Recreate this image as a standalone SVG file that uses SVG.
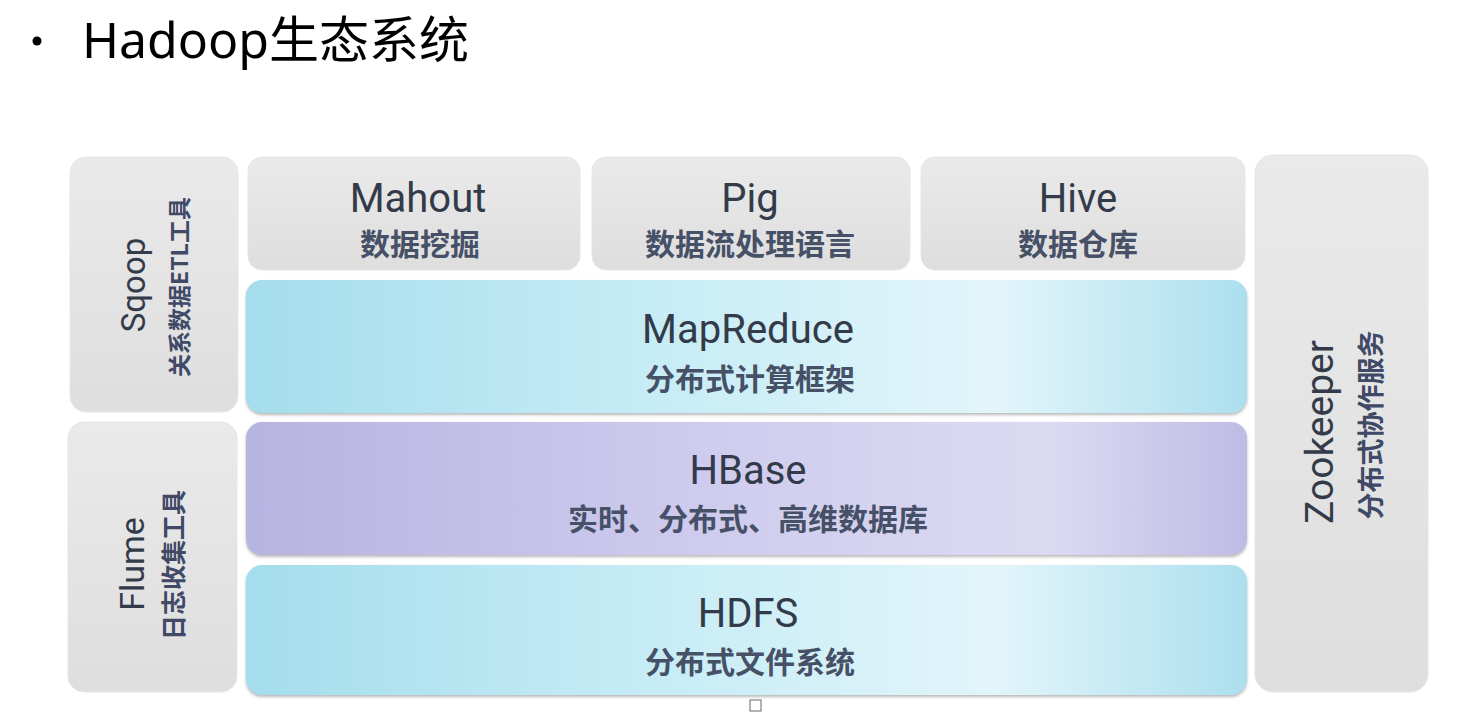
<svg xmlns="http://www.w3.org/2000/svg" width="1471" height="714" viewBox="0 0 1471 714">
<style>
.t{font-family:Roboto,"Noto Sans","Noto Sans CJK SC",sans-serif;fill:#333b4a;text-anchor:middle}
.m{font-size:40px}
.s{font-size:30px;font-family:"Noto Sans CJK SC",sans-serif;font-weight:bold;fill:#465066}
.vs{font-family:"Noto Sans CJK SC",sans-serif;font-weight:bold;fill:#404a66}
.gray{fill:url(#g);stroke:#e6e6e6;stroke-width:1}
</style>
<defs>
<linearGradient id="g" x1="0" y1="0" x2="0" y2="1">
<stop offset="0" stop-color="#eaeaea"/><stop offset="1" stop-color="#dedede"/>
</linearGradient>
<linearGradient id="c" x1="0" y1="0" x2="1" y2="0">
<stop offset="0" stop-color="#a4ddec"/><stop offset="0.4" stop-color="#c6ecf6"/><stop offset="0.75" stop-color="#e2f5fa"/><stop offset="1" stop-color="#acdfee"/>
</linearGradient>
<linearGradient id="p" x1="0" y1="0" x2="1" y2="0">
<stop offset="0" stop-color="#b6b4e0"/><stop offset="0.45" stop-color="#cecbee"/><stop offset="0.8" stop-color="#dcdaf2"/><stop offset="1" stop-color="#bebce4"/>
</linearGradient>
<filter id="sh" x="-5%" y="-5%" width="110%" height="115%"><feDropShadow dx="0" dy="2" stdDeviation="1.5" flood-color="#8a8a8a" flood-opacity="0.6"/></filter>
</defs>
<rect width="1471" height="714" fill="#ffffff"/>
<g id="title">
<circle cx="37" cy="41" r="4.5" fill="#000"/>
<text x="82" y="58" style="font-family:'Noto Sans','Noto Sans CJK SC',sans-serif;font-size:50px;fill:#000">Hadoop生态系统</text>
</g>
<g id="sqoop">
<rect class="gray" x="70" y="157" width="168" height="255" rx="16"/>
<text class="t" font-size="33" transform="translate(145,285) rotate(-90)">Sqoop</text>
<text class="t vs" font-size="23" transform="translate(188,287) rotate(-90)">关系数据ETL工具</text>
</g>
<g id="flume">
<rect class="gray" x="68" y="422" width="169" height="270" rx="16"/>
<text class="t" font-size="34" transform="translate(144,564) rotate(-90)">Flume</text>
<text class="t vs" font-size="25" transform="translate(183,565) rotate(-90)">日志收集工具</text>
</g>
<g id="zookeeper">
<rect class="gray" x="1255" y="155" width="173" height="537" rx="18"/>
<text class="t" font-size="39" transform="translate(1333,432) rotate(-90)">Zookeeper</text>
<text class="t vs" font-size="27" transform="translate(1381,425) rotate(-90)">分布式协作服务</text>
</g>
<g id="mahout">
<rect class="gray" x="248" y="157" width="332" height="113" rx="14"/>
<text class="t m" x="418" y="212">Mahout</text>
<text class="t s" x="420" y="255">数据挖掘</text>
</g>
<g id="pig">
<rect class="gray" x="592" y="157" width="318" height="113" rx="14"/>
<text class="t m" x="750" y="212">Pig</text>
<text class="t s" x="750" y="255">数据流处理语言</text>
</g>
<g id="hive">
<rect class="gray" x="921" y="157" width="324" height="113" rx="14"/>
<text class="t m" x="1078" y="212">Hive</text>
<text class="t s" x="1078" y="255">数据仓库</text>
</g>
<g id="mapreduce">
<rect x="246" y="280" width="1001" height="133" rx="16" fill="url(#c)" filter="url(#sh)"/>
<text class="t m" x="748" y="343">MapReduce</text>
<text class="t s" x="750" y="390">分布式计算框架</text>
</g>
<g id="hbase">
<rect x="246" y="422" width="1001" height="133" rx="16" fill="url(#p)" filter="url(#sh)"/>
<text class="t m" x="748" y="484">HBase</text>
<text class="t s" x="748" y="530">实时、分布式、高维数据库</text>
</g>
<g id="hdfs">
<rect x="246" y="565" width="1001" height="130" rx="16" fill="url(#c)" filter="url(#sh)"/>
<text class="t m" x="748" y="627">HDFS</text>
<text class="t s" x="750" y="673">分布式文件系统</text>
</g>
<g id="connectors"></g>
<rect x="750" y="700" width="11" height="11" fill="#fff" stroke="#666" stroke-width="1"/>
</svg>
